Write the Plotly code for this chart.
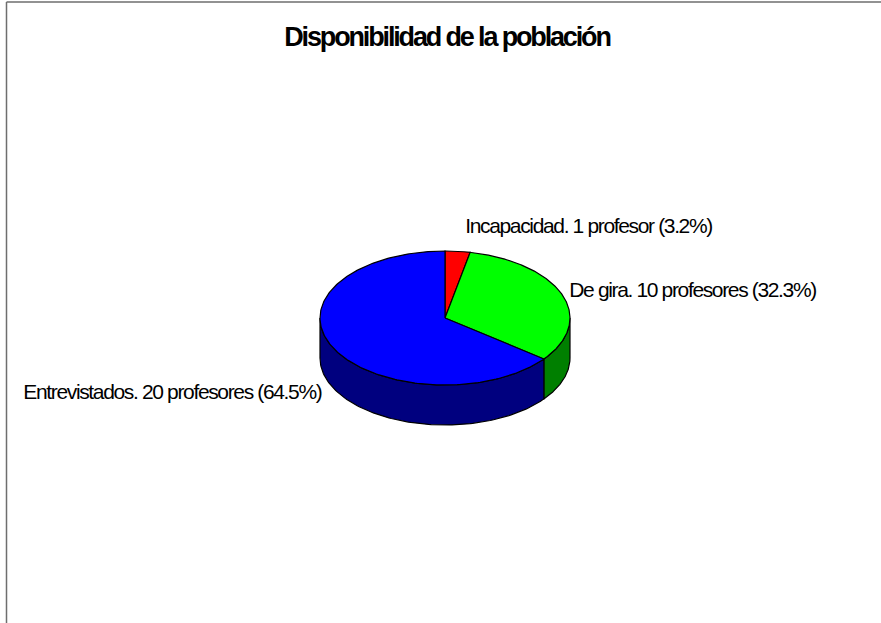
import numpy as np
import plotly.graph_objects as go

categories = ["Incapacidad", "De gira", "Entrevistados"]
values = [1, 10, 20]
units = ["profesor", "profesores", "profesores"]
top_colors = ["#ff0000", "#00ff00", "#0000ff"]
side_colors = ["#7f0000", "#007f00", "#00007f"]
title = "Disponibilidad de la población"

W, H = 881, 623
CX, CY, RX, RY, DEPTH = 445, 318, 125, 67, 40
label_centres = [(588.5, 226), (692.5, 289), (172.5, 391)]


def pts(a):
    """Clockwise angle from 12 o'clock to pixel-axis coordinates on the ellipse."""
    return CX + RX * np.sin(a), CY - RY * np.cos(a)


fracs = np.array(values) / sum(values)
edges = np.concatenate([[0], np.cumsum(fracs)]) * 2 * np.pi

fig = go.Figure()

# Side walls: only the front half (pi/2 .. 3pi/2) is visible
for i in range(len(values)):
    a0, a1 = max(edges[i], np.pi / 2), min(edges[i + 1], 3 * np.pi / 2)
    if a1 <= a0:
        continue
    t = np.linspace(a0, a1, 120)
    x, y = pts(t)
    fig.add_trace(go.Scatter(
        x=np.concatenate([x, x[::-1], x[:1]]),
        y=np.concatenate([y, y[::-1] + DEPTH, y[:1]]),
        mode="lines", fill="toself", fillcolor=side_colors[i],
        line=dict(color="#000000", width=1.2), hoverinfo="skip", showlegend=False))

# Top faces
for i in range(len(values)):
    t = np.linspace(edges[i], edges[i + 1], 240)
    x, y = pts(t)
    fig.add_trace(go.Scatter(
        x=np.concatenate([[CX], x, [CX]]),
        y=np.concatenate([[CY], y, [CY]]),
        mode="lines", fill="toself", fillcolor=top_colors[i],
        line=dict(color="#000000", width=1.2), hoverinfo="skip", showlegend=False))

annotations = [dict(
    text=f"<b>{title}</b>", x=447 / W, y=1 - 37 / H, xref="paper", yref="paper",
    xanchor="center", yanchor="middle", showarrow=False,
    font=dict(family="Liberation Sans", size=27, color="#000000"))]
for c, v, u, f, (lx, ly) in zip(categories, values, units, fracs, label_centres):
    annotations.append(dict(
        text=f"{c}. {v} {u} ({f * 100:.1f}%)", x=lx / W, y=1 - ly / H,
        xref="paper", yref="paper", xanchor="center", yanchor="middle",
        showarrow=False, font=dict(family="Liberation Sans", size=21, color="#000000")))

shapes = [
    dict(type="line", xref="paper", yref="paper", x0=6.5 / W, x1=6.5 / W, y0=0, y1=1 - 2 / H,
         line=dict(color="#6e6e6e", width=1.5)),
    dict(type="line", xref="paper", yref="paper", x0=6.5 / W, x1=1, y0=1 - 2 / H, y1=1 - 2 / H,
         line=dict(color="#6e6e6e", width=1.5)),
]

fig.update_layout(
    width=W, height=H, margin=dict(l=0, r=0, t=0, b=0),
    paper_bgcolor="#ffffff", plot_bgcolor="#ffffff",
    xaxis=dict(range=[0, W], visible=False, fixedrange=True),
    yaxis=dict(range=[H, 0], visible=False, fixedrange=True),
    annotations=annotations, shapes=shapes, showlegend=False)

post = """
document.body.style.margin = '0';
document.querySelectorAll('.annotation-text').forEach(function(t){
  t.style.letterSpacing = /Disponibilidad/.test(t.textContent) ? '-2.15px' : '-1.35px';
});
"""
fig.write_html("out.html", post_script=post, config={"displayModeBar": False})
